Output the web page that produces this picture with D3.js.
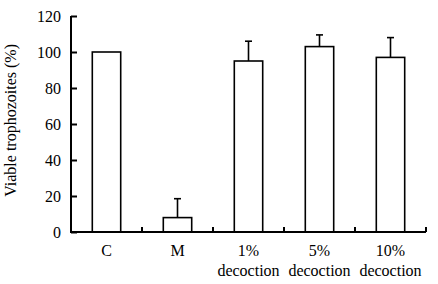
<!DOCTYPE html>
<html>
<head>
<meta charset="utf-8">
<script src="https://cdn.jsdelivr.net/npm/d3@7"></script>
<style>
  body { margin: 0; background: #fff; }
  text { font-family: "Liberation Serif", "Times New Roman", serif; fill: #000; }
</style>
</head>
<body>
<svg id="chart"></svg>
<script>
const categories = ["C", "M", "1%|decoction", "5%|decoction", "10%|decoction"];
const values = [100, 8, 95, 103, 97];
const errors = [0, 10.5, 11, 6.5, 11];
const yTicks = [0, 20, 40, 60, 80, 100, 120];

const width = 438;
const height = 284;
const margin = { top: 16, right: 12, bottom: 52, left: 71 };

const svg = d3.select("#chart")
    .attr("width", width)
    .attr("height", height);

// Scales
const x = d3.scaleBand()
    .domain(categories)
    .range([margin.left, width - margin.right])
    .paddingInner(0.6)
    .paddingOuter(0.3);

const xEdges = d3.scaleLinear()
    .domain([0, categories.length])
    .range([margin.left, width - margin.right]);

const y = d3.scaleLinear()
    .domain([0, 120])
    .range([height - margin.bottom, margin.top]);

// Bars
svg.selectAll("rect.bar")
    .data(values)
    .enter()
    .append("rect")
    .attr("class", "bar")
    .attr("x", (d, i) => x(categories[i]))
    .attr("y", d => y(d))
    .attr("width", x.bandwidth())
    .attr("height", d => y(0) - y(d))
    .attr("fill", "#fff")
    .attr("stroke", "#000")
    .attr("stroke-width", 1.6);

// Error bars (upper only)
const err = svg.append("g").attr("stroke", "#000").attr("stroke-width", 1.6);
values.forEach((v, i) => {
    if (!errors[i]) return;
    const cx = x(categories[i]) + x.bandwidth() / 2;
    err.append("line")
        .attr("x1", cx).attr("x2", cx)
        .attr("y1", y(v)).attr("y2", y(v + errors[i]));
    err.append("line")
        .attr("x1", cx - 3.5).attr("x2", cx + 3.5)
        .attr("y1", y(v + errors[i])).attr("y2", y(v + errors[i]));
});

// Y axis
const yAxis = d3.axisRight(y)
    .tickValues(yTicks)
    .tickSize(6)
    .tickFormat(d3.format("d"));

const gy = svg.append("g")
    .attr("transform", "translate(" + margin.left + ",0)")
    .call(yAxis)
    .attr("font-family", null)
    .attr("font-size", null);
gy.select(".domain").attr("stroke-width", 2).attr("d", "M0," + y(120) + "V" + y(0));
gy.selectAll(".tick line").attr("stroke-width", 2);
gy.selectAll(".tick text")
    .attr("x", -10)
    .attr("text-anchor", "end")
    .style("font-family", "'Liberation Serif', serif")
    .style("font-size", "16px");

// X axis line with ticks at band edges
const gx = svg.append("g");
gx.append("line")
    .attr("x1", margin.left - 1).attr("x2", width - margin.right)
    .attr("y1", y(0)).attr("y2", y(0))
    .attr("stroke", "#000").attr("stroke-width", 2);
gx.selectAll("line.edge")
    .data(d3.range(1, categories.length + 1))
    .enter()
    .append("line")
    .attr("class", "edge")
    .attr("x1", d => xEdges(d)).attr("x2", d => xEdges(d))
    .attr("y1", y(0)).attr("y2", y(0) - 5)
    .attr("stroke", "#000").attr("stroke-width", 2);

// X labels
categories.forEach((c, i) => {
    const parts = c.split("|");
    const t = svg.append("text")
        .attr("x", x(c) + x.bandwidth() / 2)
        .attr("y", y(0) + 24)
        .attr("text-anchor", "middle")
        .attr("font-size", 16);
    parts.forEach((p, j) => {
        t.append("tspan")
            .attr("x", x(c) + x.bandwidth() / 2)
            .attr("dy", j === 0 ? 0 : 20)
            .text(p);
    });
});

// Y title
svg.append("text")
    .attr("transform", "translate(16," + y(62) + ") rotate(-90)")
    .attr("text-anchor", "middle")
    .attr("font-size", 16)
    .text("Viable trophozoites (%)");
</script>
</body>
</html>
